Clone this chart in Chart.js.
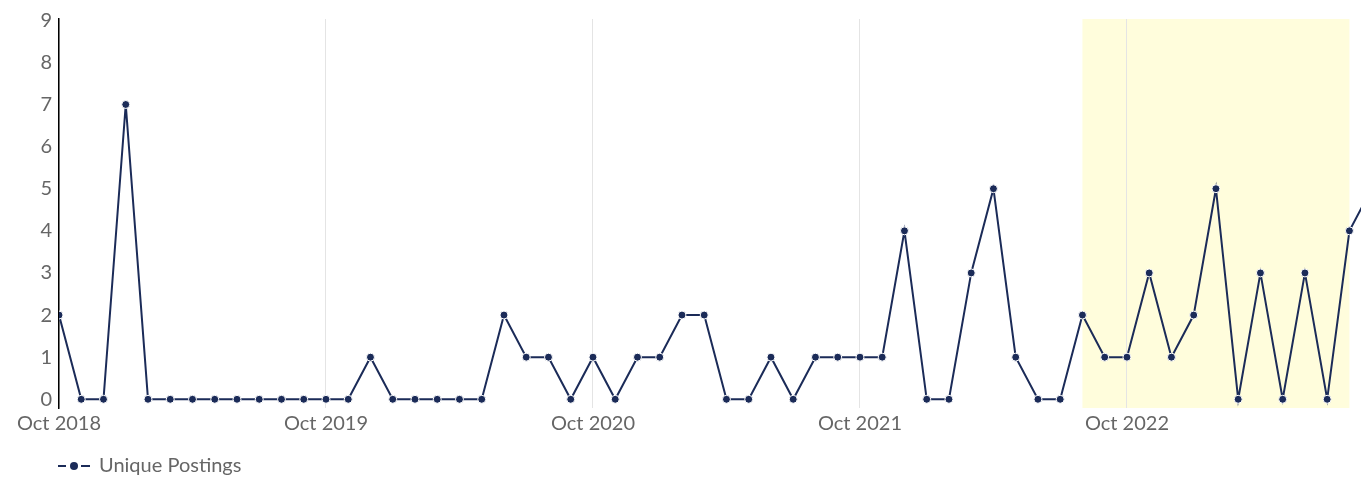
<!DOCTYPE html>
<html>
<head>
<meta charset="utf-8">
<script src="https://cdn.jsdelivr.net/npm/chart.js@4.4.0/dist/chart.umd.min.js"></script>
<style>
  html, body { margin: 0; padding: 0; overflow: hidden; background: #fff; }
  #wrap { width: 1361px; height: 486px; }
</style>
</head>
<body>
<div id="wrap"><canvas id="lineChart"></canvas></div>
<script>
// monthly categories, Oct 2018 .. Sep 2023
var months = [
  "Oct 2018", "Nov 2018", "Dec 2018", "Jan 2019", "Feb 2019", "Mar 2019", "Apr 2019", "May 2019", "Jun 2019", "Jul 2019", "Aug 2019", "Sep 2019",
  "Oct 2019", "Nov 2019", "Dec 2019", "Jan 2020", "Feb 2020", "Mar 2020", "Apr 2020", "May 2020", "Jun 2020", "Jul 2020", "Aug 2020", "Sep 2020",
  "Oct 2020", "Nov 2020", "Dec 2020", "Jan 2021", "Feb 2021", "Mar 2021", "Apr 2021", "May 2021", "Jun 2021", "Jul 2021", "Aug 2021", "Sep 2021",
  "Oct 2021", "Nov 2021", "Dec 2021", "Jan 2022", "Feb 2022", "Mar 2022", "Apr 2022", "May 2022", "Jun 2022", "Jul 2022", "Aug 2022", "Sep 2022",
  "Oct 2022", "Nov 2022", "Dec 2022", "Jan 2023", "Feb 2023", "Mar 2023", "Apr 2023", "May 2023", "Jun 2023", "Jul 2023", "Aug 2023", "Sep 2023"
];
var postings = [
  2, 0, 0, 7, 0, 0, 0, 0, 0, 0, 0, 0,
  0, 0, 1, 0, 0, 0, 0, 0, 2, 1, 1, 0,
  1, 0, 1, 1, 2, 2, 0, 0, 1, 0, 1, 1,
  1, 1, 4, 0, 0, 3, 5, 1, 0, 0, 2, 1,
  1, 3, 1, 2, 5, 0, 3, 0, 3, 0, 4, 5
];
var xTickLabels = ["Oct 2018", "Oct 2019", "Oct 2020", "Oct 2021", "Oct 2022"];
var yTicks = [0, 1, 2, 3, 4, 5, 6, 7, 8, 9];
var highlightFrom = "Aug 2022";
var highlightTo = "Aug 2023";

var navy = '#1b2b58';
var textGrey = '#666666';

// legend symbol: short line with a dot, padded on the left so it lines up with the axis
var legendIcon = document.createElement('canvas');
legendIcon.width = 81;
legendIcon.height = 12;
(function () {
  var c = legendIcon.getContext('2d');
  c.strokeStyle = navy;
  c.lineWidth = 2;
  c.beginPath(); c.moveTo(49, 6); c.lineTo(57, 6); c.stroke();
  c.beginPath(); c.moveTo(72, 6); c.lineTo(81, 6); c.stroke();
  c.fillStyle = navy;
  c.beginPath(); c.arc(65, 6, 4, 0, Math.PI * 2); c.fill();
})();

var bandPlugin = {
  id: 'band',
  beforeDraw: function (chart) {
    var x = chart.scales.x, a = chart.chartArea, ctx = chart.ctx;
    var x0 = x.getPixelForValue(months.indexOf(highlightFrom));
    var x1 = x.getPixelForValue(months.indexOf(highlightTo));
    ctx.save();
    ctx.fillStyle = 'rgb(255,253,220)';
    ctx.fillRect(x0, a.top, x1 - x0, a.bottom - a.top);
    ctx.restore();
  }
};

var ctxL = document.getElementById("lineChart").getContext('2d');
var myLineChart = new Chart(ctxL, {
  type: 'line',
  data: {
    datasets: [{
      label: "Unique Postings",
      data: postings.map(function (v, i) { return { x: i, y: v }; }),
      borderColor: navy,
      backgroundColor: navy,
      borderWidth: 2,
      tension: 0,
      pointRadius: 4,
      pointBorderColor: '#ffffff',
      pointBorderWidth: 1,
      pointBackgroundColor: navy,
      pointStyle: 'circle'
    }]
  },
  options: {
    responsive: true,
    maintainAspectRatio: false,
    animation: false,
    layout: { autoPadding: false, padding: { top: 19, left: 0, right: 0, bottom: 0 } },
    plugins: {
      legend: {
        position: 'bottom',
        align: 'start',
        labels: {
          usePointStyle: true,
          pointStyle: legendIcon,
          pointStyleWidth: 79,
          padding: 10,
          color: textGrey,
          font: { family: 'Lato', size: 20 }
        }
      },
      tooltip: { enabled: false }
    },
    scales: {
      x: {
        type: 'linear',
        min: 0,
        max: 58.52,
        afterBuildTicks: function (scale) {
          scale.ticks = xTickLabels.map(function (l) { return { value: months.indexOf(l) }; });
        },
        afterFit: function (scale) { scale.height = 38; },
        ticks: {
          color: textGrey,
          font: { family: 'Lato', size: 20 },
          padding: 4,
          maxRotation: 0,
          autoSkip: false,
          callback: function (v) { return months[v]; }
        },
        grid: { color: '#e4e4e4', lineWidth: 1, drawTicks: false },
        border: { display: false }
      },
      y: {
        min: -0.207,
        max: 9.03,
        afterBuildTicks: function (scale) {
          scale.ticks = yTicks.map(function (v) { return { value: v }; });
        },
        afterFit: function (scale) { scale.width = 59; },
        ticks: {
          color: textGrey,
          font: { family: 'Lato', size: 20 },
          padding: 7
        },
        grid: { display: false, drawTicks: false },
        border: { display: true, color: '#000000', width: 1.5 }
      }
    }
  },
  plugins: [bandPlugin]
});
</script>
</body>
</html>
